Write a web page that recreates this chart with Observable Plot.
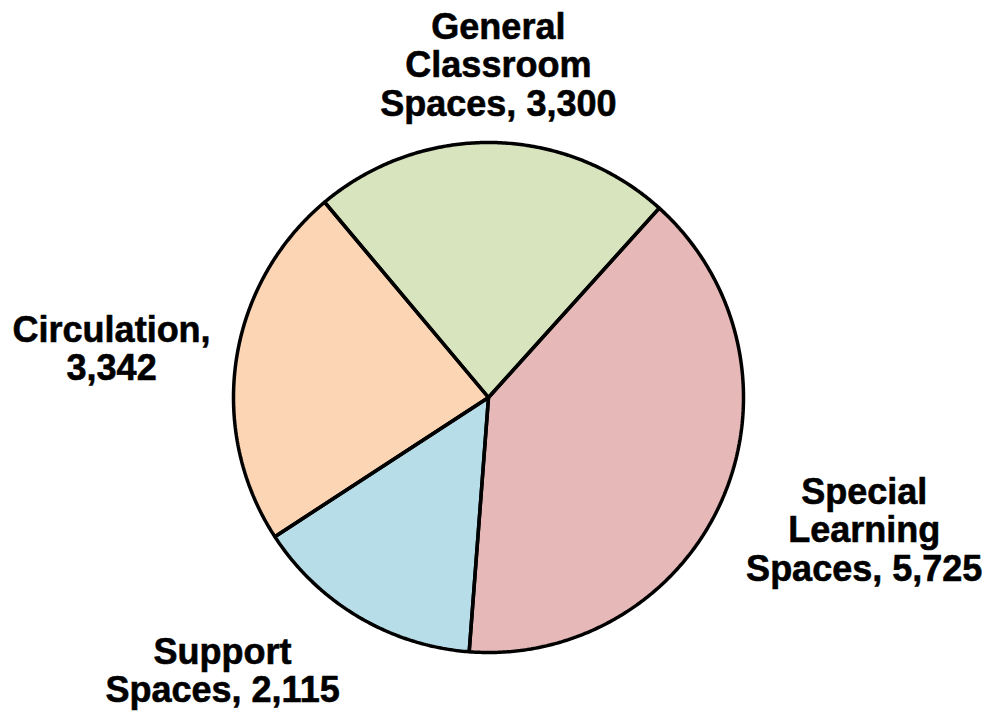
<!DOCTYPE html>
<html>
<head>
<meta charset="utf-8">
<script src="https://cdn.jsdelivr.net/npm/d3@7"></script>
<script src="https://cdn.jsdelivr.net/npm/@observablehq/plot@0.6"></script>
<style>
  html, body { margin: 0; padding: 0; background: #fff; }
  #chart { width: 990px; height: 719px; }
</style>
</head>
<body>
<div id="chart"></div>
<script>
// ---- data ----
const categories = ["General Classroom Spaces", "Special Learning Spaces", "Support Spaces", "Circulation"];
const labelLines = [["General", "Classroom", "Spaces, 3,300"], ["Special", "Learning", "Spaces, 5,725"], ["Support", "Spaces, 2,115"], ["Circulation,", "3,342"]];
const values = [3300, 5725, 2115, 3342];
const colors = ["#d7e4bd", "#e6b9b8", "#b7dee8", "#fcd5b5"];

// ---- layout (styles / nudges, not data) ----
const startDeg = -40;
const labelRadius = 1.3;
const labelNudge = [[4, -1], [71, 2], [-97, -12], [-49, 0]];

const table = categories.map((c, i) => ({category: c, value: values[i], label: labelLines[i].join("\n")}));
const arcs = d3.pie().sort(null).value(d => d.value)
  .startAngle(startDeg * Math.PI / 180)
  .endAngle(startDeg * Math.PI / 180 + 2 * Math.PI)(table);

// polygon outline for each slice: centre -> arc -> centre
const outline = [];
arcs.forEach(a => {
  const n = Math.max(2, Math.ceil((a.endAngle - a.startAngle) / (Math.PI / 360)));
  outline.push({category: a.data.category, px: 0, py: 0});
  for (let k = 0; k <= n; k++) {
    const t = a.startAngle + (a.endAngle - a.startAngle) * k / n;
    outline.push({category: a.data.category, px: Math.sin(t), py: Math.cos(t)});
  }
  outline.push({category: a.data.category, px: 0, py: 0});
});

const labelMarks = arcs.map((a, i) => {
  const m = (a.startAngle + a.endAngle) / 2;
  return Plot.text([{...a.data, lx: labelRadius * Math.sin(m), ly: labelRadius * Math.cos(m)}], {
    x: "lx", y: "ly", text: "label",
    dx: labelNudge[i][0], dy: labelNudge[i][1],
    fontSize: 36, fontWeight: "bold", lineHeight: 1.07,
    fontFamily: "Liberation Sans, Arial, Helvetica, sans-serif",
    fill: "#000", stroke: "#000", strokeWidth: 0.6, textAnchor: "middle"
  });
});

const chart = Plot.plot({
  width: 990,
  height: 719,
  marginLeft: 233,
  marginRight: 247,
  marginTop: 142,
  marginBottom: 67,
  x: {domain: [-1, 1], axis: null},
  y: {domain: [-1, 1], axis: null},
  color: {domain: categories, range: colors},
  style: {background: "#fff", overflow: "visible"},
  marks: [
    Plot.line(outline, {x: "px", y: "py", z: "category", fill: "category", stroke: "none", curve: "linear"}),
    Plot.line(outline, {x: "px", y: "py", z: "category", stroke: "#000", strokeWidth: 3.5, strokeLinejoin: "miter", curve: "linear"}),
    ...labelMarks
  ]
});
document.getElementById("chart").appendChild(chart);
</script>
</body>
</html>
